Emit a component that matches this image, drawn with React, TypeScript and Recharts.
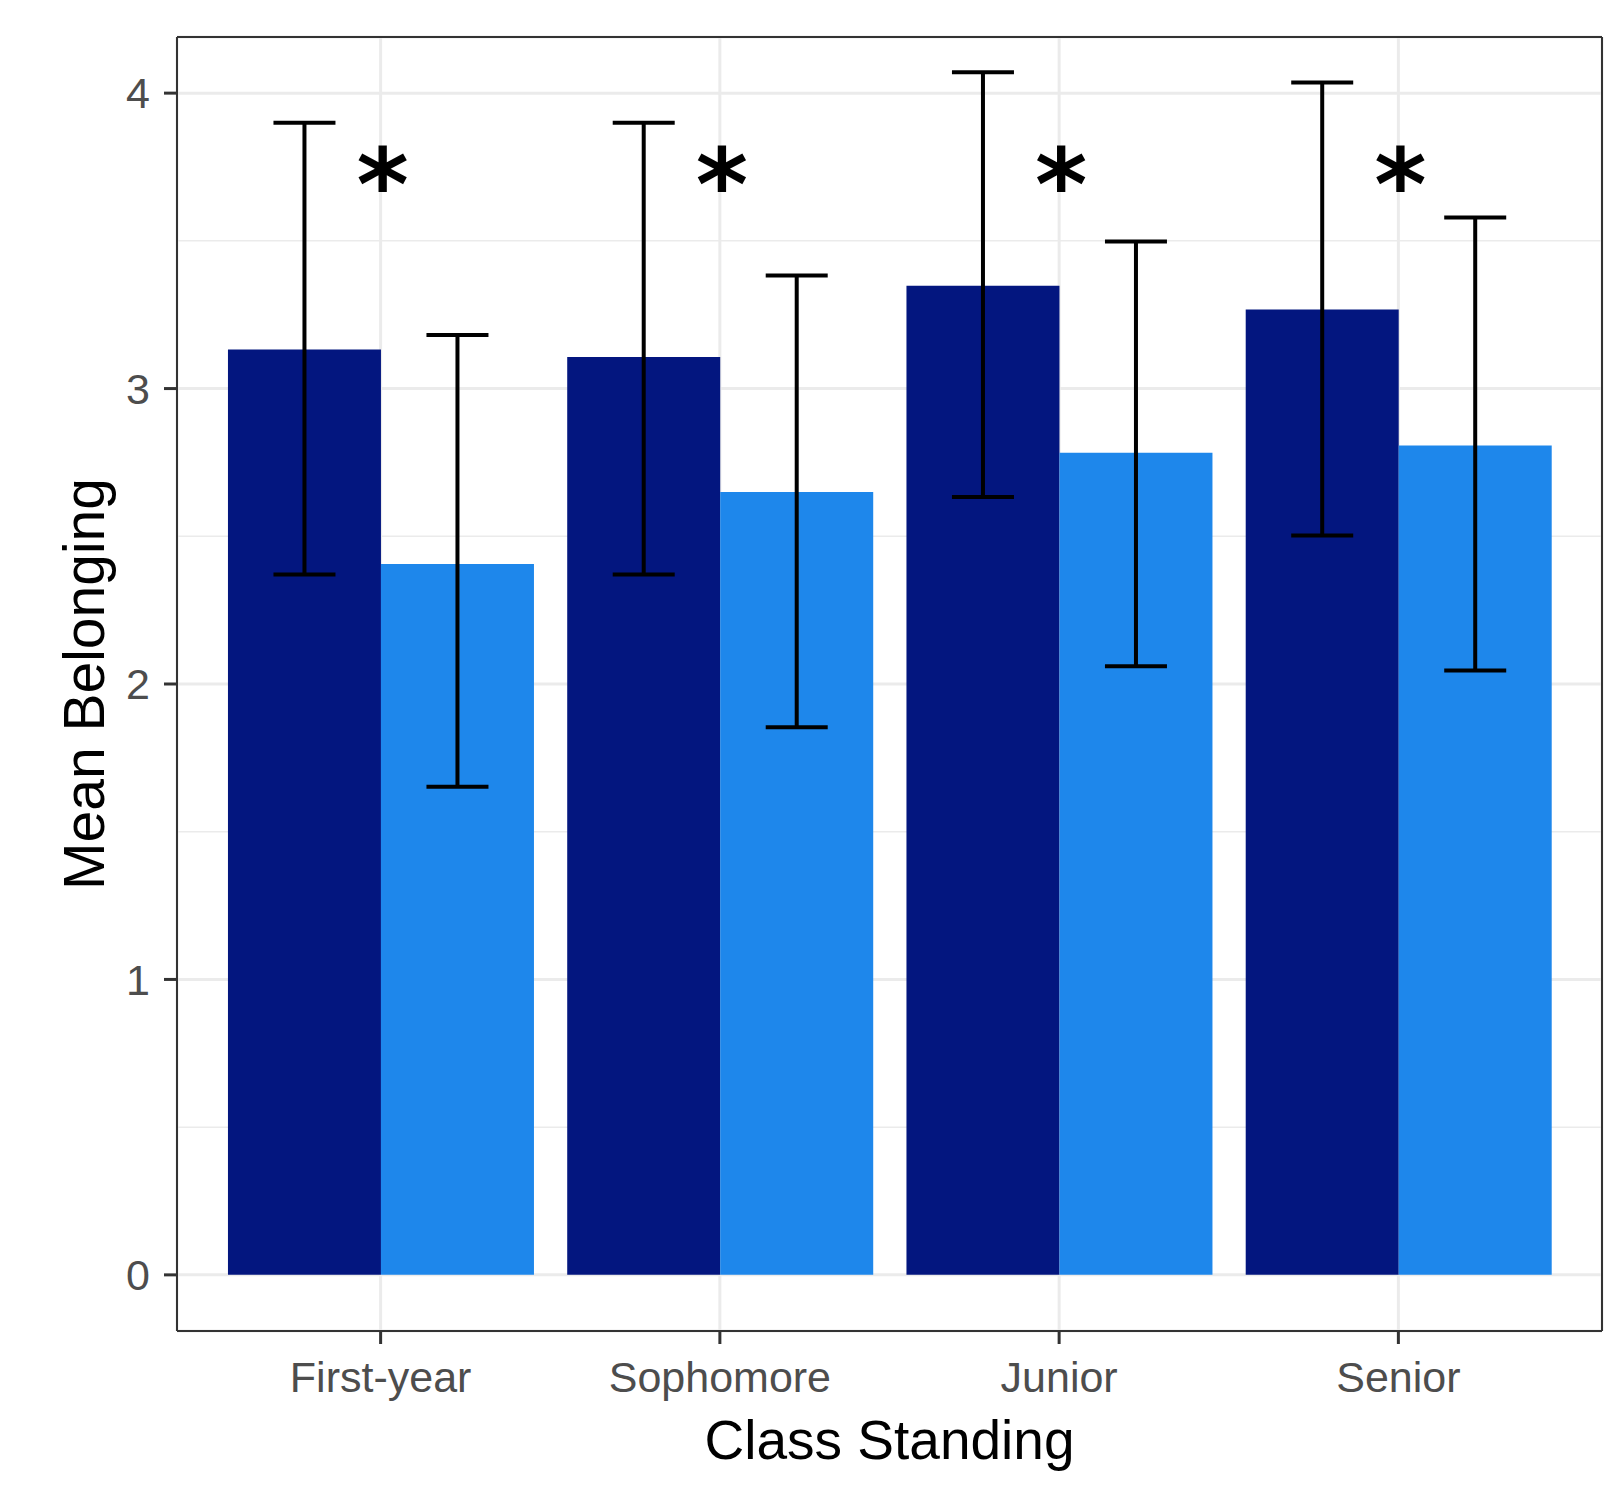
import React from 'react';
import {
  Bar,
  BarChart,
  CartesianGrid,
  ErrorBar,
  ReferenceDot,
  XAxis,
  YAxis,
} from 'recharts';

const classes = ['First-year', 'Sophomore', 'Junior', 'Senior'];
const darkMeans = [3.132, 3.107, 3.348, 3.268];
const darkErrLow = [0.761, 0.736, 0.715, 0.765];
const darkErrHigh = [0.768, 0.793, 0.723, 0.768];
const lightMeans = [2.406, 2.65, 2.783, 2.807];
const lightErrLow = [0.754, 0.796, 0.723, 0.761];
const lightErrHigh = [0.775, 0.733, 0.715, 0.772];
const starLevel = [3.73, 3.73, 3.73, 3.73];
const yTicks = [0, 1, 2, 3, 4];
const minorTicks = [0.5, 1.5, 2.5, 3.5];

const data = classes.map((cls, i) => ({
  cls,
  dark: darkMeans[i],
  darkErr: [darkErrLow[i], darkErrHigh[i]],
  light: lightMeans[i],
  lightErr: [lightErrLow[i], lightErrHigh[i]],
}));

const FONT = '"Liberation Sans", Arial, sans-serif';
const DOMAIN: [number, number] = [-0.19, 4.19];
const FRAME = { stroke: '#333', strokeWidth: 2 };

const YTitle = ({ viewBox }: any) => {
  const x = viewBox.x + 84;
  const y = viewBox.y + viewBox.height / 2;
  return (
    <text
      x={x}
      y={y}
      transform={`rotate(-90, ${x}, ${y})`}
      textAnchor="middle"
      dominantBaseline="central"
      fontSize={57}
      fontFamily={FONT}
      fill="#000"
    >
      Mean Belonging
    </text>
  );
};

const XTitle = ({ viewBox }: any) => (
  <text
    x={viewBox.x + viewBox.width / 2}
    y={viewBox.y + 109}
    textAnchor="middle"
    dominantBaseline="central"
    fontSize={55}
    fontFamily={FONT}
    fill="#000"
  >
    Class Standing
  </text>
);

const Star = (props: any) => (
  <text
    x={props.cx + 2}
    y={props.cy + 47}
    textAnchor="middle"
    fontSize={100}
    fontWeight="bold"
    fontFamily='"DejaVu Sans", sans-serif'
    fill="#000"
  >
    *
  </text>
);

export default function App() {
  return (
    <div style={{ position: 'absolute', left: 0, top: 0, background: '#fff' }}>
      <BarChart
        width={1615}
        height={1488}
        data={data}
        margin={{ top: 36, right: 12, left: 0, bottom: 0 }}
        barCategoryGap="5%"
        barGap={0}
      >
        <CartesianGrid
          stroke="#ebebeb"
          strokeWidth={1.5}
          vertical={false}
          horizontalValues={minorTicks}
        />
        <CartesianGrid stroke="#ebebeb" strokeWidth={3} />
        <XAxis
          dataKey="cls"
          height={157}
          padding={{ left: 34, right: 34 }}
          axisLine={FRAME}
          tickLine={{ stroke: '#333', strokeWidth: 3 }}
          tickSize={13}
          tickMargin={17}
          tick={{ fontSize: 43, fontFamily: FONT, fill: '#4d4d4d' }}
          label={<XTitle />}
        />
        <XAxis
          xAxisId="top"
          dataKey="cls"
          orientation="top"
          height={1}
          padding={{ left: 34, right: 34 }}
          tick={false}
          tickLine={false}
          axisLine={FRAME}
        />
        <YAxis
          width={177}
          domain={DOMAIN}
          allowDataOverflow
          ticks={yTicks}
          interval={0}
          axisLine={FRAME}
          tickLine={{ stroke: '#333', strokeWidth: 3 }}
          tickSize={13}
          tickMargin={14}
          tick={{ fontSize: 43, fontFamily: FONT, fill: '#4d4d4d' }}
          label={<YTitle />}
        />
        <YAxis
          yAxisId="right"
          orientation="right"
          width={1}
          domain={DOMAIN}
          allowDataOverflow
          tick={false}
          tickLine={false}
          axisLine={FRAME}
        />
        <Bar dataKey="dark" fill="#03167f" isAnimationActive={false}>
          <ErrorBar
            dataKey="darkErr"
            direction="y"
            width={31}
            strokeWidth={4}
            stroke="#000"
            isAnimationActive={false}
          />
        </Bar>
        <Bar dataKey="light" fill="#1e87eb" isAnimationActive={false}>
          <ErrorBar
            dataKey="lightErr"
            direction="y"
            width={31}
            strokeWidth={4}
            stroke="#000"
            isAnimationActive={false}
          />
        </Bar>
        {classes.map((cls, i) => (
          <ReferenceDot
            key={cls}
            x={cls}
            y={starLevel[i]}
            xAxisId="top"
            yAxisId="right"
            r={0}
            shape={<Star />}
          />
        ))}
      </BarChart>
    </div>
  );
}
